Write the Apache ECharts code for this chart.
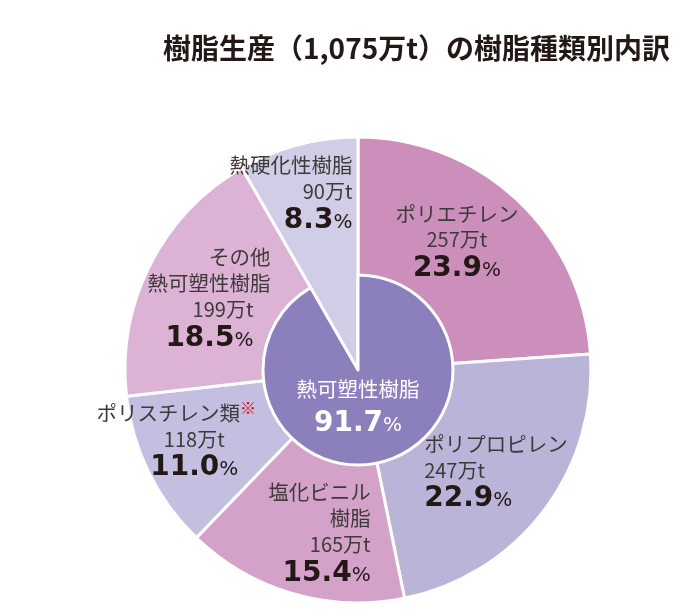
<!DOCTYPE html>
<html>
<head>
<meta charset="utf-8">
<script src="https://cdn.jsdelivr.net/npm/echarts@6/dist/echarts.min.js"></script>
<style>
  html, body { margin: 0; padding: 0; background: #fff; }
  #chart { width: 690px; height: 616px; }
</style>
</head>
<body>
<div id="chart"></div>
<script>
  // 樹脂種類別（外側）
  const names = ['ポリエチレン', 'ポリプロピレン', '塩化ビニル\n樹脂', 'ポリスチレン類', 'その他\n熱可塑性樹脂', '熱硬化性樹脂'];
  const notes = ['', '', '', '※', '', ''];
  const amounts = [257, 247, 165, 118, 199, 90]; // 万t
  const shares = [23.9, 22.9, 15.4, 11.0, 18.5, 8.3]; // %
  const colors = ['#cc8fbb', '#bab4d9', '#d4a2c9', '#c4bfe0', '#dcb3d4', '#d1cde6'];

  // 熱可塑性 / 熱硬化性（内側）
  const groupNames = ['熱可塑性樹脂', '熱硬化性樹脂'];
  const groupShares = [91.7, 8.3];
  const groupColors = ['#8b80bb', 'transparent'];

  const CJK = '"Noto Sans CJK JP", sans-serif';
  const NUM = '"DejaVu Sans", sans-serif';

  // ラベルの揃えと位置調整
  const labelLayout = [
    { align: 'center', offset: [-15, -6] },
    { align: 'left', offset: [5, 1] },
    { align: 'right', offset: [8, 3] },
    { align: 'left', offset: [-32, -3], pad: 36 },
    { align: 'right', offset: [0, 4], padR: 17 },
    { align: 'right', offset: [-24, -15] }
  ];

  function richFor(lay, color, pctLine) {
    const a = lay.align;
    const padL = lay.pad || 0;
    const padR = lay.padR || 0;
    const numAlign = lay.pad ? 'center' : a;
    const pl = pctLine || 30;
    return {
      n: { fontSize: 20.5, fontFamily: CJK, color: color || '#3e3a39', lineHeight: 26, align: a },
      r: { fontSize: 16, fontFamily: CJK, color: '#e60012', lineHeight: 26, verticalAlign: 'top', align: a },
      v: { fontSize: 20, fontFamily: CJK, color: color || '#3e3a39', lineHeight: 26, align: numAlign, padding: [0, padR, 0, padL] },
      p: { fontSize: 28, fontWeight: 'bold', fontFamily: NUM, color: color || '#231815', lineHeight: pl, verticalAlign: 'bottom', align: numAlign, padding: [0, 0, 0, padL] },
      u: { fontSize: 20, fontFamily: NUM, color: color || '#231815', lineHeight: pl, verticalAlign: 'bottom', align: numAlign, padding: [0, padR, 2, 0] }
    };
  }

  const outerData = names.map((n, i) => ({
    name: n,
    value: shares[i],
    itemStyle: { color: colors[i] }
  }));

  const labelData = names.map((n, i) => {
    const lay = labelLayout[i];
    const nameLines = n.split('\n').map(s => '{n|' + s + '}');
    nameLines[nameLines.length - 1] += notes[i] ? '{r|' + notes[i] + '}' : '';
    return {
      name: n,
      value: shares[i],
      label: {
        show: true,
        position: 'inside',
        offset: lay.offset,
        formatter: nameLines.join('\n') + '\n{v|' + amounts[i] + '万t}\n{p|' + shares[i].toFixed(1) + '}{u|%}',
        rich: richFor(lay)
      }
    };
  });

  const innerData = groupNames.map((n, i) => ({
    name: n,
    value: groupShares[i],
    itemStyle: i === 0 ? { color: groupColors[i], borderColor: '#fff', borderWidth: 3 } : { color: groupColors[i], borderWidth: 0 },
    label: i === 0 ? {
      show: true,
      position: 'center',
      offset: [0, 37],
      formatter: '{n|' + n + '}\n{p|' + groupShares[i].toFixed(1) + '}{u|%}',
      rich: richFor({ align: 'center' }, '#fff', 36)
    } : { show: false }
  }));

  const chart = echarts.init(document.getElementById('chart'));
  chart.setOption({
    backgroundColor: '#fff',
    animation: false,
    title: {
      text: '樹脂生産（1,075万t）の樹脂種類別内訳',
      left: 158,
      top: 29,
      textStyle: { fontSize: 28, fontWeight: 'bold', fontFamily: CJK, color: '#231815' }
    },
    series: [
      {
        type: 'pie',
        center: [358, 370],
        radius: [0, 233],
        startAngle: 90,
        clockwise: true,
        silent: true,
        avoidLabelOverlap: false,
        itemStyle: { borderColor: '#fff', borderWidth: 3 },
        label: { show: false },
        labelLine: { show: false },
        data: outerData
      },
      {
        type: 'pie',
        center: [358, 370],
        radius: [0, 95],
        startAngle: 90,
        clockwise: true,
        silent: true,
        avoidLabelOverlap: false,
        labelLine: { show: false },
        data: innerData
      },
      {
        // ラベル配置用（透明）
        type: 'pie',
        center: [358, 370],
        radius: [95, 233],
        startAngle: 90,
        clockwise: true,
        silent: true,
        avoidLabelOverlap: false,
        itemStyle: { color: 'transparent', borderWidth: 0 },
        labelLine: { show: false },
        data: labelData
      }
    ]
  });
</script>
</body>
</html>
